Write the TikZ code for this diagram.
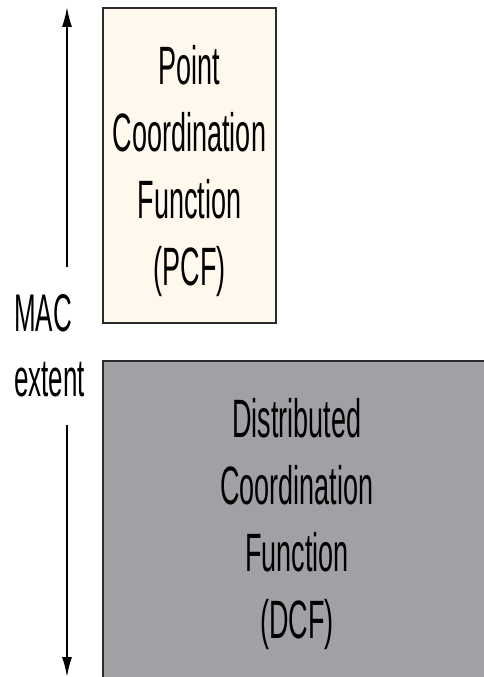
\documentclass[tikz,border=0pt]{standalone}
\usepackage{fontspec}
\setmainfont{Liberation Sans}
\usetikzlibrary{arrows.meta}
\definecolor{pcffill}{HTML}{FEF9EC}
\definecolor{dcffill}{HTML}{A1A0A5}
\definecolor{edge}{HTML}{2B2B2B}
\tikzset{
  box/.style={draw=edge, line width=1.8pt, rectangle, inner sep=0pt},
  boxtext/.style={inner sep=0pt, align=center, xscale=0.5, transform shape,
    font=\fontsize{54}{67}\selectfont},
  labeltext/.style={inner sep=0pt, align=left, xscale=0.49, transform shape,
    font=\fontsize{53}{65}\selectfont},
  extentarrow/.style={line width=1.6pt, -{Latex[length=20pt,width=10pt]}}
}
\begin{document}
\begin{tikzpicture}[x=1pt,y=-1pt]
\useasboundingbox (0,0) rectangle (483,677);
\node[box, fill=pcffill, minimum width=173pt, minimum height=315pt] (pcf) at (189.5,165.5) {};
\node[box, fill=dcffill, minimum width=387pt, minimum height=329pt] (dcf) at (296.5,525.5) {};
\node[boxtext] (pcftext) at (189.5,171) {Point\\Coordination\\Function\\(PCF)};
\node[boxtext] (dcftext) at (297,524) {Distributed\\Coordination\\Function\\(DCF)};
\node[labeltext, anchor=west] (mac) at (14,346) {MAC\\extent};
\coordinate (upstart) at (67,267);
\coordinate (upend) at (67,7);
\coordinate (downstart) at (67,425);
\coordinate (downend) at (67,677);
\draw[extentarrow] (upstart) -- (upend);
\draw[extentarrow] (downstart) -- (downend);
\end{tikzpicture}
\end{document}
